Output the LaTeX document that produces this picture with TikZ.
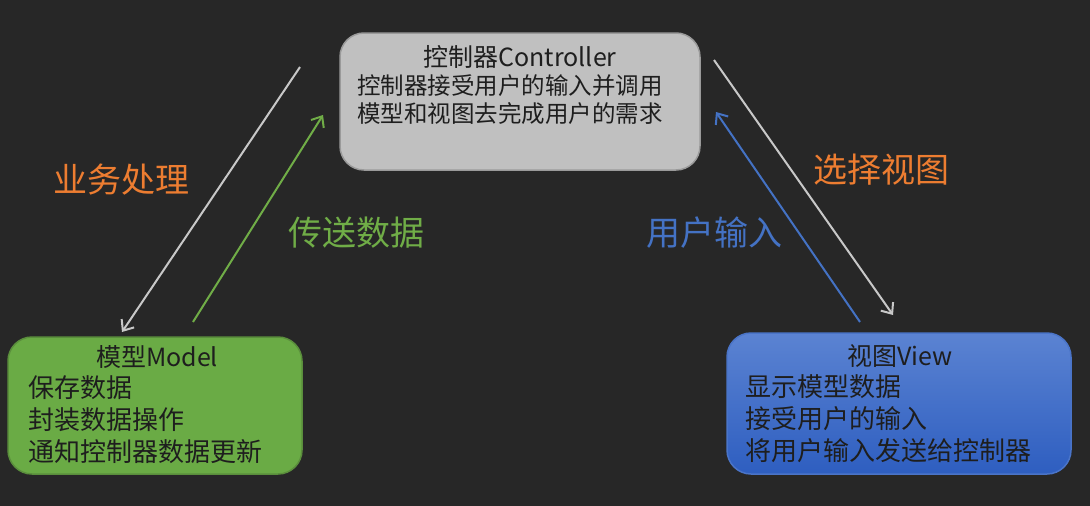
\documentclass[tikz,border=0pt]{standalone}
\usepackage{fontspec}
\newfontfamily\cjk{Noto Sans CJK SC}
\usetikzlibrary{arrows.meta}

\definecolor{bgdark}{HTML}{272727}
\definecolor{boxink}{HTML}{1E1E1E}
\definecolor{ctrlfill}{HTML}{C0C0C0}
\definecolor{ctrledge}{HTML}{9A9A9A}
\definecolor{modelfill}{HTML}{6AAB45}
\definecolor{modeledge}{HTML}{5A8E3C}
\definecolor{viewtop}{HTML}{5B83D2}
\definecolor{viewbot}{HTML}{2E5EC0}
\definecolor{viewedge}{HTML}{4A74C8}
\definecolor{lineorange}{HTML}{ED7D31}
\definecolor{linegreen}{HTML}{70AD47}
\definecolor{lineblue}{HTML}{4472C4}
\definecolor{linegray}{HTML}{C8C8C8}

\begin{document}
\begin{tikzpicture}[x=1pt,y=-1pt,>={Straight Barb[length=9pt,width=15pt]},
  box/.style={draw,rounded corners=24pt,line width=1.5pt,inner sep=0pt},
  boxtitle/.style={inner sep=0pt,text=boxink,font=\cjk\fontsize{25}{25}\selectfont},
  boxline/.style={anchor=west,inner sep=0pt,text=boxink,font=\cjk\fontsize{#1}{#1}\selectfont},
  boxline/.default=26,
  flow/.style={->,line width=2pt},
  flowlabel/.style={inner sep=0pt,font=\cjk\fontsize{34}{34}\selectfont}]
  \useasboundingbox (0,0) rectangle (1090,506);
  \fill[bgdark] (0,0) rectangle (1090,506);

  % controller
  \node[box,draw=ctrledge,fill=ctrlfill,minimum width=360pt,minimum height=137pt] (ctrl) at (520,101.5) {};
  \node[boxtitle] (ctrltitle) at (520,57) {控制器Controller};
  \node[boxline=23.5] (ctrlone) at (357,86) {控制器接受用户的输入并调用};
  \node[boxline=23.5] (ctrltwo) at (357,114) {模型和视图去完成用户的需求};

  % model
  \node[box,draw=modeledge,fill=modelfill,minimum width=294pt,minimum height=137pt] (model) at (155,405.5) {};
  \node[boxtitle] (modeltitle) at (157,357) {模型Model};
  \node[boxline] (modelone) at (28,388) {保存数据};
  \node[boxline] (modeltwo) at (28,420) {封装数据操作};
  \node[boxline] (modelthree) at (28,452) {通知控制器数据更新};

  % view
  \node[box,draw=viewedge,top color=viewtop,bottom color=viewbot,minimum width=344pt,minimum height=141pt] (view) at (899,403.5) {};
  \node[boxtitle] (viewtitle) at (900,356) {视图View};
  \node[boxline] (viewone) at (745,387) {显示模型数据};
  \node[boxline] (viewtwo) at (745,419) {接受用户的输入};
  \node[boxline] (viewthree) at (745,451) {将用户输入发送给控制器};

  % arrow ends
  \coordinate (ctrlleftout) at (300,67);
  \coordinate (modelin) at (122,332);
  \coordinate (modelout) at (193,322);
  \coordinate (ctrlleftin) at (323,115);
  \coordinate (ctrlrightout) at (714,60);
  \coordinate (viewin) at (893,315);
  \coordinate (viewout) at (860,322);
  \coordinate (ctrlrightin) at (716,112);

  \draw[flow,linegray] (ctrlleftout) -- (modelin);
  \draw[flow,linegreen] (modelout) -- (ctrlleftin);
  \draw[flow,linegray] (ctrlrightout) -- (viewin);
  \draw[flow,lineblue] (viewout) -- (ctrlrightin);

  \node[flowlabel,text=lineorange] (business) at (121,180) {业务处理};
  \node[flowlabel,text=linegreen] (senddata) at (356,233) {传送数据};
  \node[flowlabel,text=lineorange] (pickview) at (881,170) {选择视图};
  \node[flowlabel,text=lineblue] (userinput) at (714,233) {用户输入};
\end{tikzpicture}
\end{document}
